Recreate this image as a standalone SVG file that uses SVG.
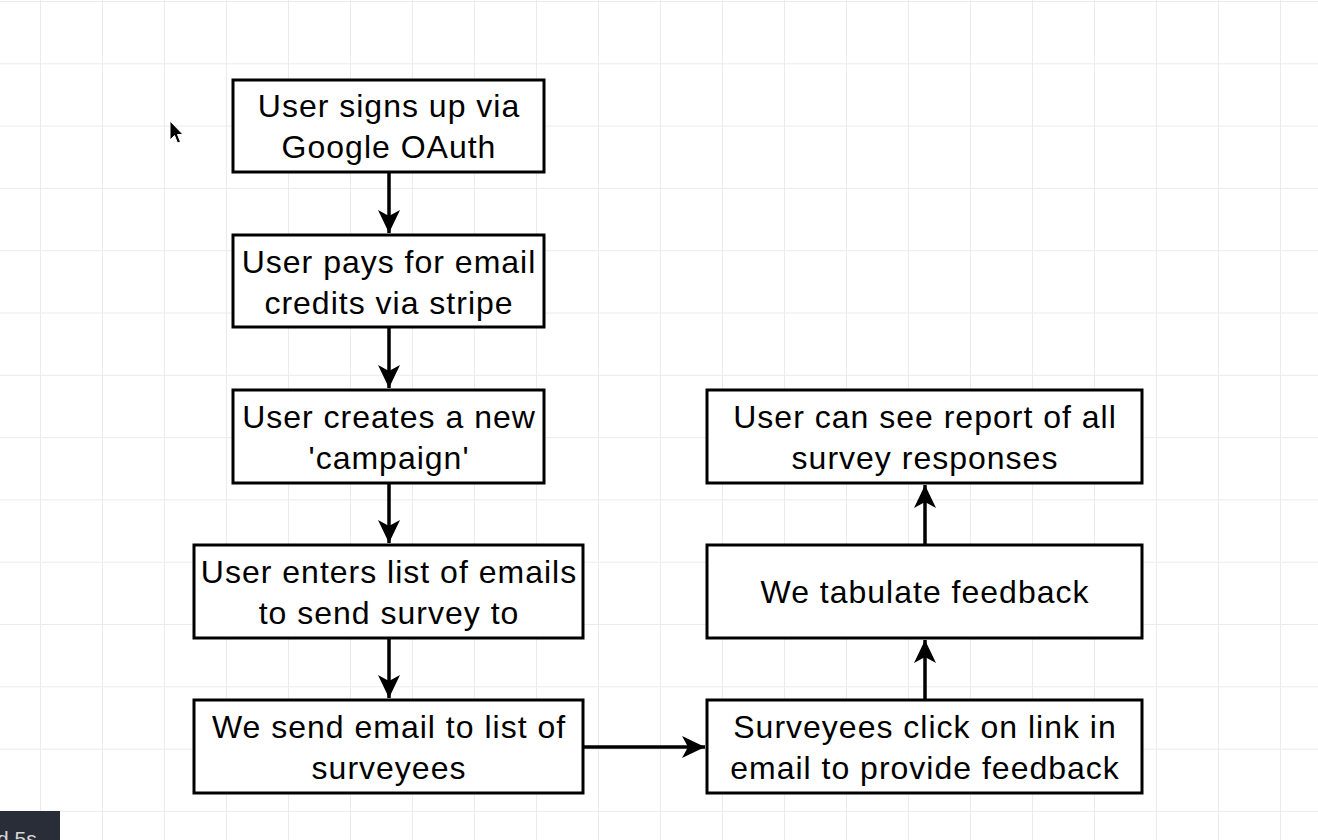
<svg xmlns="http://www.w3.org/2000/svg" width="1318" height="840" viewBox="0 0 1318 840">
  <style>
    .box { fill: #ffffff; stroke: #000000; stroke-width: 3; }
    .lbl { font-family: "Liberation Sans", Arial, Helvetica, sans-serif; font-size: 32px; letter-spacing: 1px; fill: #000000; text-anchor: middle; }
    .edge { stroke: #000000; stroke-width: 3.5; fill: none; marker-end: url(#arrow); }
  </style>
  <defs>
    <pattern id="grid" patternUnits="userSpaceOnUse" x="40" y="1" width="62" height="62.3">
      <path d="M0.5,0 V62.3 M0,0.5 H62" stroke="#ebebeb" stroke-width="1" fill="none"/>
    </pattern>
    <marker id="arrow" markerUnits="userSpaceOnUse" markerWidth="24" markerHeight="24" refX="23" refY="12" orient="auto" viewBox="0 0 24 24">
      <path d="M0,1 L23,12 L0,23 L6,12 Z" fill="#000000"/>
    </marker>
  </defs>
  <rect x="0" y="0" width="1318" height="840" fill="#ffffff"/>
  <rect x="0" y="0" width="1318" height="840" fill="url(#grid)"/>

  <g id="connectors">
    <line class="edge" x1="389" y1="172" x2="389" y2="233"/>
    <line class="edge" x1="389" y1="327" x2="389" y2="388"/>
    <line class="edge" x1="389" y1="483" x2="389" y2="543"/>
    <line class="edge" x1="389" y1="638" x2="389" y2="698"/>
    <line class="edge" x1="583" y1="747" x2="705" y2="747"/>
    <line class="edge" x1="925" y1="700" x2="925" y2="640"/>
    <line class="edge" x1="925" y1="545" x2="925" y2="485"/>
  </g>

  <g id="n1">
    <rect class="box" x="233" y="80" width="311" height="92"/>
    <text class="lbl" x="389" y="117">User signs up via</text>
    <text class="lbl" x="389" y="158">Google OAuth</text>
  </g>
  <g id="n2">
    <rect class="box" x="233" y="235" width="311" height="92"/>
    <text class="lbl" x="389" y="273">User pays for email</text>
    <text class="lbl" x="389" y="314">credits via stripe</text>
  </g>
  <g id="n3">
    <rect class="box" x="233" y="390" width="311" height="93"/>
    <text class="lbl" x="389" y="428">User creates a new</text>
    <text class="lbl" x="389" y="469">'campaign'</text>
  </g>
  <g id="n4">
    <rect class="box" x="194" y="545" width="389" height="93"/>
    <text class="lbl" x="389" y="583">User enters list of emails</text>
    <text class="lbl" x="389" y="624">to send survey to</text>
  </g>
  <g id="n5">
    <rect class="box" x="194" y="700" width="389" height="93"/>
    <text class="lbl" x="389" y="738">We send email to list of</text>
    <text class="lbl" x="389" y="779">surveyees</text>
  </g>
  <g id="n6">
    <rect class="box" x="707" y="390" width="435" height="93"/>
    <text class="lbl" x="925" y="428">User can see report of all</text>
    <text class="lbl" x="925" y="469">survey responses</text>
  </g>
  <g id="n7">
    <rect class="box" x="707" y="545" width="435" height="93"/>
    <text class="lbl" x="925" y="603">We tabulate feedback</text>
  </g>
  <g id="n8">
    <rect class="box" x="707" y="700" width="435" height="93"/>
    <text class="lbl" x="925" y="738">Surveyees click on link in</text>
    <text class="lbl" x="925" y="779">email to provide feedback</text>
  </g>

  <g id="cursor">
    <path d="M170,121 L170,140 L174.5,135.5 L177.5,143 L180.5,141.8 L177.5,134.5 L183,134.5 Z" fill="#000000" stroke="#ffffff" stroke-width="1"/>
  </g>

  <g id="badge">
    <rect x="0" y="811" width="60" height="29" fill="#282d38"/>
    <text x="-3" y="846" font-family="'Liberation Sans', Arial, sans-serif" font-size="21" fill="#d8d8d8">d 5s</text>
  </g>
</svg>
